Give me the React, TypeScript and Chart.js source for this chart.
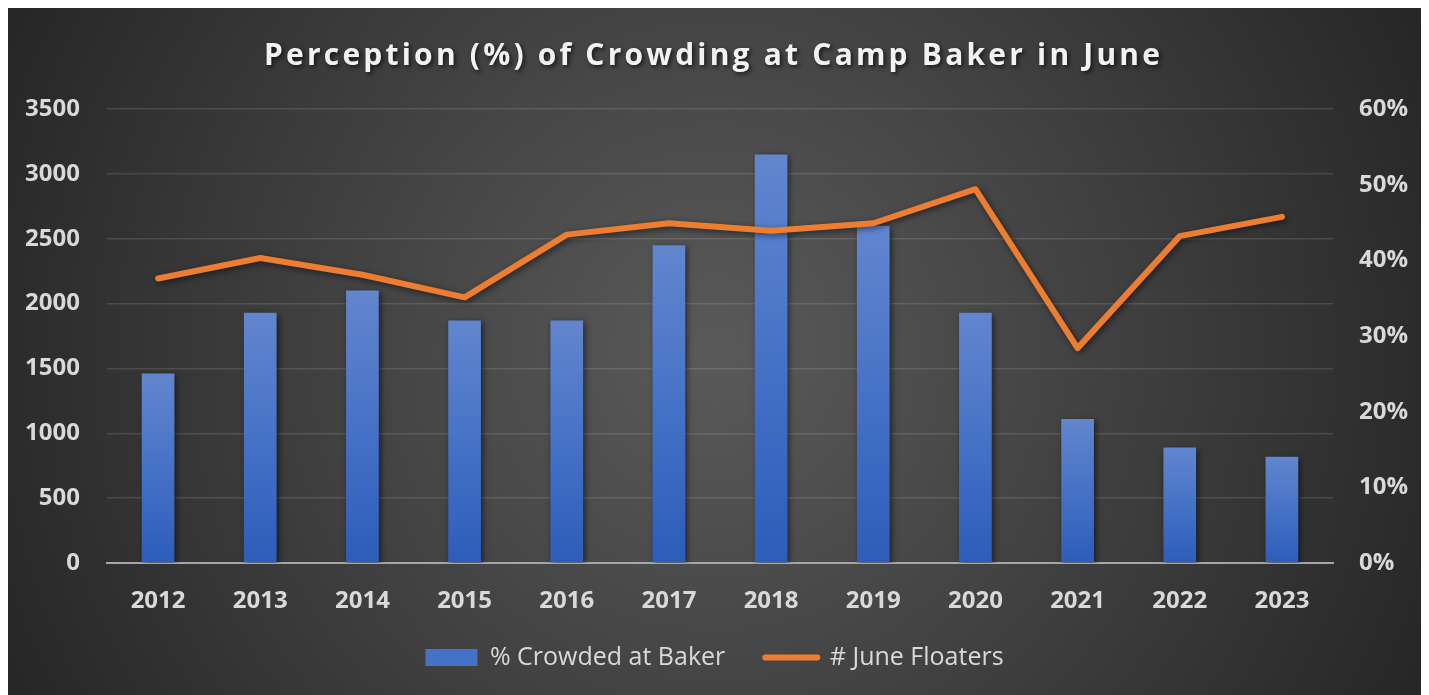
import React, { useEffect, useRef } from 'react';
import { Chart, registerables } from 'chart.js';

Chart.register(...registerables);

// ---- Data ----
const years = ['2012', '2013', '2014', '2015', '2016', '2017', '2018', '2019', '2020', '2021', '2022', '2023'];
const crowdedAtBaker = [1460, 1930, 2100, 1870, 1870, 2450, 3150, 2600, 1930, 1110, 890, 820];
const juneFloaters = [0.376, 0.403, 0.381, 0.351, 0.434, 0.449, 0.439, 0.449, 0.494, 0.284, 0.432, 0.4575];
const leftAxis = { min: 0, max: 3500, step: 500 };
const rightAxis = { min: 0, max: 0.6, step: 0.1 };
const chartTitle = 'Perception (%) of Crowding at Camp Baker in June';
const barLabel = '% Crowded at Baker';
const lineLabel = '# June Floaters';

const FONT = '"Open Sans", "Noto Sans", sans-serif';
const TEXT = '#d9d9d9';
const ORANGE = '#ed7d31';
const BLUE = '#4472c4';

const titlePlugin = {
  id: 'customTitle',
  afterDraw(chart: any) {
    const ctx = chart.ctx as CanvasRenderingContext2D;
    ctx.save();
    ctx.font = `bold 30px ${FONT}`;
    (ctx as any).letterSpacing = '0px';
    const w0 = ctx.measureText(chartTitle).width;
    const target = 896;
    const spacing = Math.max(0, (target - w0) / (chartTitle.length - 1));
    (ctx as any).letterSpacing = `${spacing}px`;
    ctx.fillStyle = '#f2f2f2';
    ctx.textAlign = 'left';
    ctx.textBaseline = 'alphabetic';
    ctx.shadowColor = 'rgba(0,0,0,0.65)';
    ctx.shadowBlur = 4;
    ctx.shadowOffsetX = 2;
    ctx.shadowOffsetY = 2;
    ctx.fillText(chartTitle, 704 - target / 2, 57);
    ctx.restore();
  },
};

const shadowPlugin = {
  id: 'datasetShadow',
  beforeDatasetDraw(chart: any) {
    const ctx = chart.ctx as CanvasRenderingContext2D;
    ctx.save();
    ctx.shadowColor = 'rgba(0,0,0,0.55)';
    ctx.shadowBlur = 6;
    ctx.shadowOffsetX = 2;
    ctx.shadowOffsetY = 2;
  },
  afterDatasetDraw(chart: any) {
    chart.ctx.restore();
  },
};

const X_AXIS_H = 60;
const LEGEND_H = 72;
const LEGEND_SHIFT = -18;
const legendFitPlugin = {
  id: 'legendFit',
  afterInit(chart: any) {
    const lg = chart.legend;
    if (lg && !lg.__patched) {
      const orig = lg.fit.bind(lg);
      lg.fit = function () {
        orig();
        this.height = LEGEND_H;
      };
      lg.__patched = true;
    }
  },
  afterLayout(chart: any) {
    const lg = chart.legend;
    if (lg) {
      lg.top += LEGEND_SHIFT;
      lg.bottom += LEGEND_SHIFT;
    }
  },
};

export default function App() {
  const canvasRef = useRef<HTMLCanvasElement | null>(null);

  useEffect(() => {
    document.body.style.overflow = 'hidden';
    const canvas = canvasRef.current;
    if (!canvas) return;

    const barGradient = (c: any) => {
      const chart = c.chart;
      if (c.type !== 'data' || !chart.chartArea || !chart.scales.y) return BLUE;
      const ys = chart.scales.y;
      const top = ys.getPixelForValue(c.raw as number);
      const bottom = ys.getPixelForValue(0);
      if (!isFinite(top) || !isFinite(bottom) || top === bottom) return BLUE;
      const g = chart.ctx.createLinearGradient(0, top, 0, bottom);
      g.addColorStop(0, '#6286ce');
      g.addColorStop(0.5, '#4672c6');
      g.addColorStop(1, '#2d5dba');
      return g;
    };

    const chart = new Chart(canvas, {
      type: 'bar',
      data: {
        labels: years,
        datasets: [
          {
            type: 'bar',
            label: barLabel,
            data: crowdedAtBaker,
            yAxisID: 'y',
            backgroundColor: barGradient,
            borderWidth: 0,
            barPercentage: 0.32,
            categoryPercentage: 1,
            order: 2,
          },
          {
            type: 'line',
            label: lineLabel,
            data: juneFloaters,
            yAxisID: 'y1',
            borderColor: ORANGE,
            backgroundColor: ORANGE,
            borderWidth: 6,
            borderCapStyle: 'round',
            borderJoinStyle: 'round',
            pointRadius: 0,
            pointHoverRadius: 0,
            tension: 0,
            fill: false,
            order: 1,
          },
        ],
      } as any,
      options: {
        animation: false,
        responsive: true,
        maintainAspectRatio: false,
        layout: { padding: { top: 101, left: 0, right: 0, bottom: 0 } },
        plugins: {
          title: { display: false },
          tooltip: { enabled: false },
          legend: {
            display: true,
            position: 'bottom',
            labels: {
              usePointStyle: true,
              pointStyleWidth: 52,
              boxHeight: 17,
              padding: 40,
              color: TEXT,
              font: { family: FONT, size: 25, weight: 'normal' },
              sort: (a: any, b: any) => a.datasetIndex - b.datasetIndex,
              generateLabels: (chart: any) => {
                const ds = chart.data.datasets;
                return [
                  {
                    text: ds[0].label,
                    fillStyle: BLUE,
                    strokeStyle: BLUE,
                    lineWidth: 0,
                    pointStyle: 'rect',
                    datasetIndex: 0,
                    fontColor: TEXT,
                    hidden: false,
                  },
                  {
                    text: ds[1].label,
                    fillStyle: ORANGE,
                    strokeStyle: ORANGE,
                    lineWidth: 6,
                    lineCap: 'round',
                    pointStyle: 'line',
                    datasetIndex: 1,
                    fontColor: TEXT,
                    hidden: false,
                  },
                ];
              },
            },
          },
        },
        scales: {
          x: {
            grid: { display: false, drawTicks: false },
            border: { display: true, color: '#a6a6a6', width: 2 },
            ticks: {
              color: TEXT,
              padding: 24,
              font: { family: FONT, size: 24, weight: 'bold' },
              maxRotation: 0,
            },
            afterFit: (scale: any) => {
              scale.height = X_AXIS_H;
            },
          },
          y: {
            position: 'left',
            min: leftAxis.min,
            max: leftAxis.max,
            grid: {
              color: 'rgba(255,255,255,0.12)',
              lineWidth: 1.5,
              drawTicks: false,
            },
            border: { display: false },
            ticks: {
              stepSize: leftAxis.step,
              color: TEXT,
              padding: 27,
              font: { family: FONT, size: 24, weight: 'bold' },
              callback: (v: any) => String(v),
            },
            afterFit: (scale: any) => {
              scale.width = 99;
            },
          },
          y1: {
            position: 'right',
            min: rightAxis.min,
            max: rightAxis.max,
            grid: { drawOnChartArea: false, drawTicks: false },
            border: { display: false },
            ticks: {
              stepSize: rightAxis.step,
              color: TEXT,
              padding: 26,
              font: { family: FONT, size: 24, weight: 'bold' },
              callback: (v: any) => `${Math.round(Number(v) * 100)}%`,
            },
            afterFit: (scale: any) => {
              scale.width = 88;
            },
          },
        },
      } as any,
      plugins: [titlePlugin, shadowPlugin, legendFitPlugin],
    });

    return () => {
      chart.destroy();
    };
  }, []);

  return (
    <div
      style={{
        position: 'relative',
        width: '100%',
        height: 687,
        background: 'radial-gradient(circle farthest-corner at 50% 50%, #5a5a5a 0%, #3e3e3e 55%, #262626 100%)',
      }}
    >
      <canvas ref={canvasRef} />
    </div>
  );
}
